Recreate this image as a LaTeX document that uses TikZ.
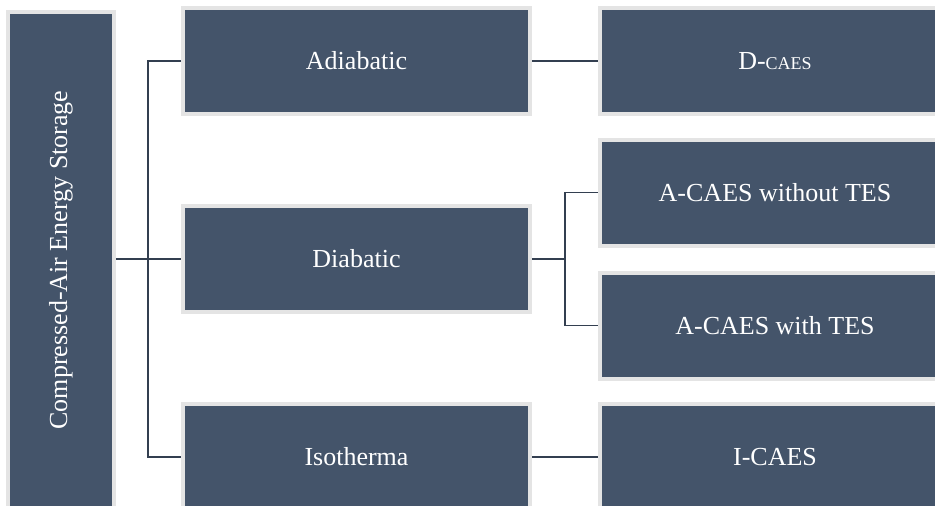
\documentclass[tikz,border=0pt]{standalone}
\usepackage{fontspec}
\setmainfont{Liberation Serif}
\usetikzlibrary{positioning}

\definecolor{slate}{HTML}{44546A}
\definecolor{rim}{HTML}{E4E4E4}
\definecolor{wire}{HTML}{333F50}

\begin{document}
\begin{tikzpicture}[x=1pt,y=1pt,font=\fontsize{26}{30}\selectfont,
 box/.style={draw=rim,line width=4pt,fill=slate,text=white,minimum width=347pt,minimum height=106pt,align=center},
 wide/.style={box,minimum width=350pt},
 link/.style={draw=wire,line width=1.8pt}]
\useasboundingbox (0,0) rectangle (935,-506);
\clip (0,0) rectangle (935,-506);
\node[box,rotate=90,minimum width=496pt] (root) at (61,-260) {Compressed-Air Energy Storage};
\node[box] (adiabatic) at (356.5,-61) {Adiabatic};
\node[box,below=88pt of adiabatic] (diabatic) {Diabatic};
\node[box,below=88pt of diabatic] (isotherma) {Isotherma};
\node[wide,right=66pt of adiabatic] (dcaes) {D-{\fontsize{18}{20}\selectfont CAES}};
\node[wide,right=66pt of diabatic,yshift=66.5pt] (notes) {A-CAES without TES};
\node[wide,right=66pt of diabatic,yshift=-66.5pt] (withtes) {A-CAES with TES};
\node[wide,right=66pt of isotherma] (icaes) {I-CAES};
% tree links
\draw[link] (diabatic.west -| root.south) -- (diabatic.west);
\draw[link] (adiabatic.west) -- ++(-33pt,0) |- (isotherma.west);
\draw[link] (adiabatic) -- (dcaes);
\draw[link] (isotherma) -- (icaes);
\draw[link] (diabatic.east) -- ++(33pt,0);
\draw[link] (notes.west) -- ++(-33pt,0) |- (withtes.west);
\end{tikzpicture}
\end{document}
